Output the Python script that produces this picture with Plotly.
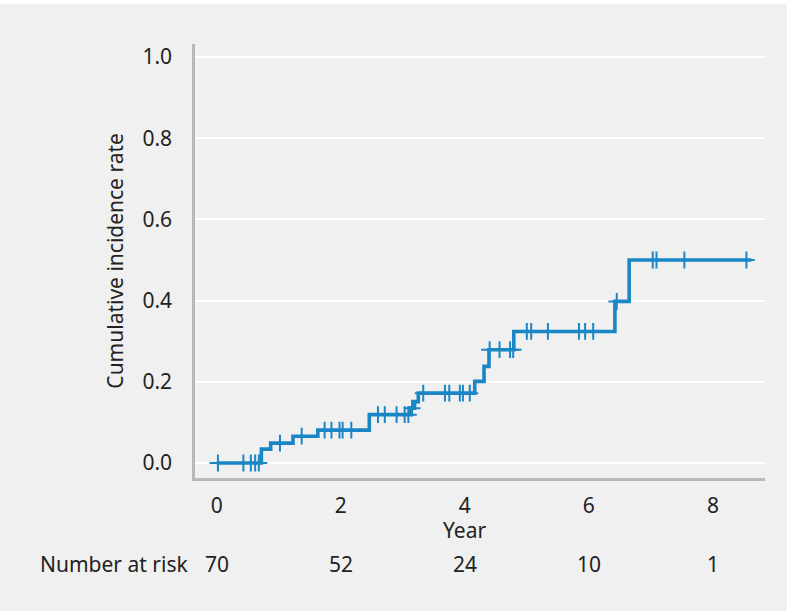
import plotly.graph_objects as go

# ---- data ----
step_times = [0.0, 0.72, 0.87, 1.23, 1.63, 2.46, 3.11, 3.19, 3.25, 4.16, 4.31, 4.39, 4.79, 6.42, 6.65, 8.62]
step_levels = [0.0, 0.034, 0.049, 0.066, 0.081, 0.119, 0.135, 0.151, 0.172, 0.201, 0.238, 0.279, 0.324, 0.398, 0.500, 0.500]
censor_times = [0.02, 0.43, 0.55, 0.62, 0.68, 1.02, 1.37, 1.74, 1.85, 1.98, 2.03, 2.17,
                2.60, 2.71, 2.90, 3.03, 3.09, 3.15, 3.33, 3.68, 3.75, 3.92, 3.97, 4.08,
                4.40, 4.56, 4.73, 4.78, 5.00, 5.07, 5.34, 5.84, 5.94, 6.07, 6.45,
                7.03, 7.09, 7.54, 8.54]
risk_years = [0, 2, 4, 6, 8]
risk_counts = [70, 52, 24, 10, 1]
y_ticks = [0.0, 0.2, 0.4, 0.6, 0.8, 1.0]
x_ticks = [0, 2, 4, 6, 8]


def level_at(t):
    lev = step_levels[0]
    for st, sl in zip(step_times, step_levels):
        if st <= t:
            lev = sl
    return lev


censor_levels = [level_at(t) for t in censor_times]

BLUE = "#1a86c5"
BG = "#eff0ef"
FONT = "Noto Sans"
TXT = "#222222"
FS = 21

fig = go.Figure()
fig.add_trace(go.Scatter(x=step_times, y=step_levels, mode="lines",
                         line=dict(color=BLUE, width=3.6, shape="hv"),
                         hoverinfo="skip", showlegend=False))
fig.add_trace(go.Scatter(x=censor_times, y=censor_levels, mode="markers",
                         marker=dict(symbol="cross-thin", size=12,
                                     line=dict(color=BLUE, width=2)),
                         showlegend=False))

annotations = [
    dict(text="Year", x=4, y=-0.119, xref="x", yref="paper", showarrow=False,
         font=dict(size=FS, color=TXT, family=FONT), yanchor="middle"),
    dict(text="Cumulative incidence rate", x=-0.141, y=0.5, xref="paper", yref="paper",
         showarrow=False, textangle=-90, xanchor="center", yanchor="middle",
         font=dict(size=FS, color=TXT, family=FONT)),
    dict(text="Number at risk", x=-0.2754, y=-0.198, xref="paper", yref="paper",
         showarrow=False, xanchor="left", yanchor="middle",
         font=dict(size=FS, color=TXT, family=FONT)),
]
for yr, n in zip(risk_years, risk_counts):
    annotations.append(dict(text=str(n), x=yr, y=-0.198, xref="x", yref="paper",
                            showarrow=False, yanchor="middle",
                            font=dict(size=FS, color=TXT, family=FONT)))

# thin white frame strips seen at the top and right edge of the reference image
shapes = [
    dict(type="rect", xref="paper", yref="paper", x0=-0.35, x1=1.08, y0=1.092, y1=1.11,
         fillcolor="#ffffff", line=dict(width=0), layer="below"),
    dict(type="rect", xref="paper", yref="paper", x0=1.0386, x1=1.08, y0=-0.31, y1=1.11,
         fillcolor="#ffffff", line=dict(width=0), layer="below"),
]

fig.update_layout(
    width=800, height=611,
    paper_bgcolor=BG, plot_bgcolor=BG,
    margin=dict(l=195, r=35, t=44, b=133),
    showlegend=False,
    annotations=annotations,
    shapes=shapes,
    xaxis=dict(range=[-0.35, 8.84], tickvals=x_ticks, ticktext=[str(v) for v in x_ticks],
               showgrid=False, zeroline=False, showline=True, linecolor="#b8b8b8", linewidth=2.5,
               ticks="", ticklabelstandoff=7,
               tickfont=dict(size=FS, color=TXT, family=FONT)),
    yaxis=dict(range=[-0.037, 1.032], tickvals=y_ticks, ticktext=[f"{v:.1f}" for v in y_ticks],
               showgrid=True, gridcolor="#ffffff", gridwidth=2, zeroline=False,
               showline=True, linecolor="#b8b8b8", linewidth=2.5,
               ticks="", ticklabelstandoff=16,
               tickfont=dict(size=FS, color=TXT, family=FONT)),
)

fig.write_html("out.html", config={"displayModeBar": False},
               post_script="document.body.style.margin='0';")
